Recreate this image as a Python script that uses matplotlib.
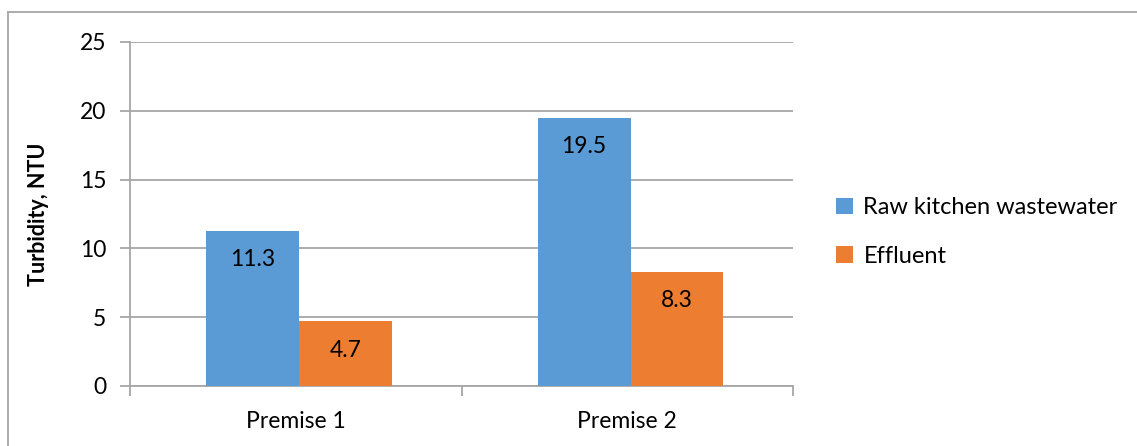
import numpy as np
import matplotlib.pyplot as plt
from matplotlib.lines import Line2D
from matplotlib.patches import Patch

premises = ['Premise 1', 'Premise 2']
raw = [11.3, 19.5]
effluent = [4.7, 8.3]
series_names = ['Raw kitchen wastewater', 'Effluent']

blue = '#5B9BD5'
orange = '#ED7D31'
grid_col = '#A6A6A6'

plt.rcParams['font.family'] = ['Lato', 'DejaVu Sans']

W, H = 1137, 446
fig = plt.figure(figsize=(W / 100, H / 100), dpi=100)
ax = fig.add_axes([130 / W, (H - 386) / H, (793 - 130) / W, (386 - 42) / H])

x = np.arange(len(premises)) + 0.01
w = 0.28
b1 = ax.bar(x - w / 2, raw, w, color=blue, zorder=3)
b2 = ax.bar(x + w / 2, effluent, w, color=orange, zorder=3)

for bars, vals in [(b1, raw), (b2, effluent)]:
    for r, v in zip(bars, vals):
        ax.annotate(f'{v}', (r.get_x() + r.get_width() / 2, v),
                    xytext=(0, -29), textcoords='offset pixels',
                    ha='center', va='center', fontsize=16.5, color='black', zorder=4)

ax.set_xlim(-0.5, 1.5)
ax.set_ylim(0, 25)
ax.set_yticks(np.arange(0, 26, 5))
ax.yaxis.grid(True, color=grid_col, linewidth=1.3, zorder=0)
ax.set_axisbelow(True)

ax.set_xticks([-0.5, 0.5, 1.5], minor=False)
ax.set_xticklabels(['', '', ''])
ax.set_xticks(np.arange(len(premises)), minor=True)
ax.set_xticklabels(premises, minor=True, fontsize=16.5)
ax.tick_params(axis='x', which='major', length=7, width=1.3, color=grid_col)
ax.tick_params(axis='x', which='minor', length=0, pad=18)
ax.tick_params(axis='y', length=7, width=1.3, color=grid_col, labelsize=16.5, pad=10)

for s in ['top', 'right']:
    ax.spines[s].set_visible(False)
for s in ['left', 'bottom']:
    ax.spines[s].set_color(grid_col)
    ax.spines[s].set_linewidth(1.3)

ax.set_ylabel('Turbidity, NTU', fontsize=15.5, fontweight='bold', labelpad=22)

handles = [Patch(facecolor=blue), Patch(facecolor=orange)]
fig.legend(handles, series_names, loc='center left',
           bbox_to_anchor=(815 / W, (H - 232) / H), frameon=False,
           fontsize=17, handlelength=0.7, handleheight=0.7,
           handletextpad=0.45, labelspacing=1.15)

# outer chart border
fig.add_artist(Line2D([8 / W, 8 / W], [0, (H - 12) / H], color=grid_col, linewidth=1.3))
fig.add_artist(Line2D([8 / W, 1], [(H - 12) / H, (H - 12) / H], color=grid_col, linewidth=1.3))

fig.savefig('out.png', dpi=100)
